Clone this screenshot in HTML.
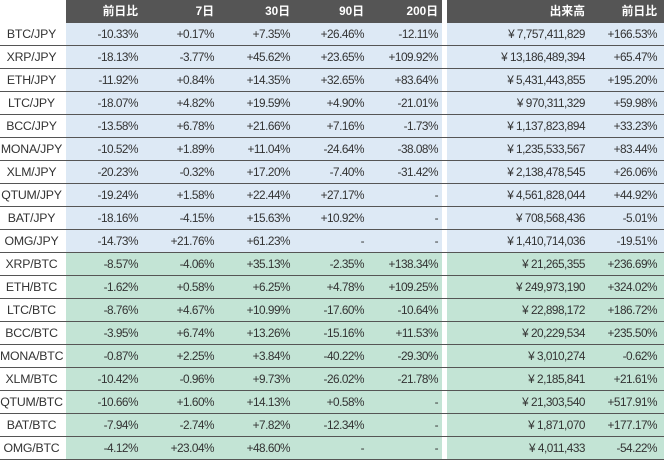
<!DOCTYPE html>
<html><head><meta charset="utf-8"><style>
body{margin:0;width:664px;height:461px;background:#fff;overflow:hidden;font-family:"Liberation Sans","Noto Sans CJK JP",sans-serif;}
.r{position:absolute;left:0;width:664px;height:23px;}
.c{position:absolute;top:0;height:22px;line-height:23px;font-size:11.8px;color:#333;text-align:right;letter-spacing:-0.5px;box-sizing:border-box;padding-right:4px;white-space:nowrap}
.line{position:absolute;left:0;width:664px;height:1px;background:#555;bottom:0}
.h .c{color:#fff;font-weight:bold;letter-spacing:0}
</style></head><body>
<div id="t"></div>
<script>
var cols=[[0,63],[66,142],[142,218],[218,294],[294,368],[368,442],[447,589],[589,661]];
var rows=[
["BTC/JPY","-10.33%","+0.17%","+7.35%","+26.46%","-12.11%","¥ 7,757,411,829","+166.53%"],
["XRP/JPY","-18.13%","-3.77%","+45.62%","+23.65%","+109.92%","¥ 13,186,489,394","+65.47%"],
["ETH/JPY","-11.92%","+0.84%","+14.35%","+32.65%","+83.64%","¥ 5,431,443,855","+195.20%"],
["LTC/JPY","-18.07%","+4.82%","+19.59%","+4.90%","-21.01%","¥ 970,311,329","+59.98%"],
["BCC/JPY","-13.58%","+6.78%","+21.66%","+7.16%","-1.73%","¥ 1,137,823,894","+33.23%"],
["MONA/JPY","-10.52%","+1.89%","+11.04%","-24.64%","-38.08%","¥ 1,235,533,567","+83.44%"],
["XLM/JPY","-20.23%","-0.32%","+17.20%","-7.40%","-31.42%","¥ 2,138,478,545","+26.06%"],
["QTUM/JPY","-19.24%","+1.58%","+22.44%","+27.17%","-","¥ 4,561,828,044","+44.92%"],
["BAT/JPY","-18.16%","-4.15%","+15.63%","+10.92%","-","¥ 708,568,436","-5.01%"],
["OMG/JPY","-14.73%","+21.76%","+61.23%","-","-","¥ 1,410,714,036","-19.51%"],
["XRP/BTC","-8.57%","-4.06%","+35.13%","-2.35%","+138.34%","¥ 21,265,355","+236.69%"],
["ETH/BTC","-1.62%","+0.58%","+6.25%","+4.78%","+109.25%","¥ 249,973,190","+324.02%"],
["LTC/BTC","-8.76%","+4.67%","+10.99%","-17.60%","-10.64%","¥ 22,898,172","+186.72%"],
["BCC/BTC","-3.95%","+6.74%","+13.26%","-15.16%","+11.53%","¥ 20,229,534","+235.50%"],
["MONA/BTC","-0.87%","+2.25%","+3.84%","-40.22%","-29.30%","¥ 3,010,274","-0.62%"],
["XLM/BTC","-10.42%","-0.96%","+9.73%","-26.02%","-21.78%","¥ 2,185,841","+21.61%"],
["QTUM/BTC","-10.66%","+1.60%","+14.13%","+0.58%","-","¥ 21,303,540","+517.91%"],
["BAT/BTC","-7.94%","-2.74%","+7.82%","-12.34%","-","¥ 1,871,070","+177.17%"],
["OMG/BTC","-4.12%","+23.04%","+48.60%","-","-","¥ 4,011,433","-54.22%"]];
var h=["","前日比","7日","30日","90日","200日","出来高","前日比"];
var o='<div class="r h" style="top:0">';
o+='<div style="position:absolute;left:66px;width:376px;height:23px;background:#555"></div><div style="position:absolute;left:447px;width:217px;height:23px;background:#555"></div>';
for(var i=1;i<8;i++){o+='<div class="c" style="left:'+cols[i][0]+'px;width:'+(cols[i][1]-cols[i][0]+(i==7?3:0))+'px;height:23px;padding-right:'+(i==7?7:4)+'px">'+h[i]+'</div>';}
o+='</div>';
rows.forEach(function(r,k){
 var bg=k<10?'#dde9f5':'#c3e4d5';
 o+='<div class="r" style="top:'+(23+k*23)+'px">';
 o+='<div style="position:absolute;left:66px;width:376px;height:23px;background:'+bg+'"></div><div style="position:absolute;left:447px;width:217px;height:23px;background:'+bg+'"></div>';
 for(var i=0;i<8;i++){
  if(i==0){o+='<div class="c" style="left:0;width:63px;padding:0;text-align:center;font-size:12.3px;letter-spacing:-0.2px">'+r[0]+'</div>';continue;}
  o+='<div class="c" style="left:'+cols[i][0]+'px;width:'+(cols[i][1]-cols[i][0]+(i==7?3:0))+'px;padding-right:'+(i==7?7:4)+'px">'+r[i]+'</div>';}
 o+='<div class="line"></div></div>';
});
document.getElementById('t').innerHTML=o;
</script>
</body></html>
